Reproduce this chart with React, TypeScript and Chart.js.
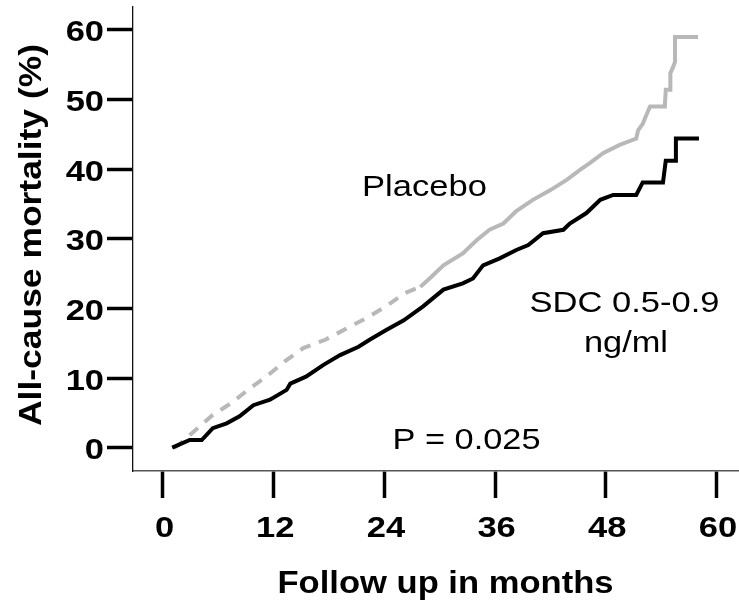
import { useEffect, useRef } from "react";
import Chart from "chart.js/auto";

// ---- Data ----
const xTickValues = [0, 12, 24, 36, 48, 60];
const yTickValues = [0, 10, 20, 30, 40, 50, 60];

const sdcMonths = [
  1.0, 2.9, 4.2, 5.4, 6.9, 8.3, 9.8, 11.6, 13.4, 13.8, 15.5, 17.4, 19.2, 21.2,
  22.4, 24.2, 26.1, 28.2, 30.4, 32.5, 33.6, 34.7, 36.5, 38.3, 39.6, 41.2, 43.4,
  44.1, 45.9, 47.4, 48.8, 51.3, 52.0, 54.2, 54.5, 55.6, 55.6, 58.1,
];
const sdcMortality = [
  0, 1.1, 1.1, 2.8, 3.5, 4.5, 6.1, 6.9, 8.3, 9.2, 10.2, 11.9, 13.3, 14.5,
  15.5, 16.9, 18.3, 20.3, 22.7, 23.6, 24.3, 26.2, 27.2, 28.4, 29.1, 30.8, 31.3,
  32.2, 33.7, 35.6, 36.3, 36.3, 38.1, 38.1, 41.2, 41.2, 44.4, 44.4,
];

const placeboMonths = [
  1.2, 1.7, 3.5, 5.4, 7.4, 9.4, 11.2, 13.2, 15.2, 17.6, 20.0, 22.3, 24.4, 26.2,
  27.9, 28.9, 30.4, 32.5, 34.0, 35.4, 36.9, 38.3, 40.1, 42.0, 43.8, 45.2, 46.3,
  47.7, 49.5, 51.3, 51.5, 52.0, 52.4, 52.8, 54.4, 54.5, 55.0, 55.0, 55.3, 55.5,
  55.5, 58.0,
];
const placeboMortality = [
  0, 0.4, 2.5, 4.7, 6.4, 8.5, 10.2, 12.4, 14.3, 15.5, 17.2, 18.8, 20.5, 22.2,
  23.1, 24.3, 26.2, 27.9, 29.8, 31.3, 32.2, 34.0, 35.6, 37.0, 38.5, 39.9, 40.9,
  42.3, 43.5, 44.4, 45.6, 46.5, 47.8, 49.0, 49.0, 51.4, 51.4, 53.8, 54.7, 55.4,
  59.0, 59.0,
];

const xTitle = "Follow up in months";
const yTitle = "All-cause mortality (%)";
const placeboLabel = "Placebo";
const sdcLabelLines = ["SDC 0.5-0.9", "ng/ml"];
const pValueLabel = "P = 0.025";

const FONT = '"Liberation Sans", Arial, Helvetica, sans-serif';

function drawScaled(
  ctx: CanvasRenderingContext2D,
  text: string,
  x: number,
  y: number,
  font: string,
  sx: number,
  align: CanvasTextAlign
) {
  ctx.save();
  ctx.font = font;
  ctx.fillStyle = "#000";
  ctx.textAlign = align;
  ctx.textBaseline = "alphabetic";
  ctx.translate(x, y);
  ctx.scale(sx, 1);
  ctx.fillText(text, 0, 0);
  ctx.restore();
}

function drawToWidth(
  ctx: CanvasRenderingContext2D,
  text: string,
  cx: number,
  y: number,
  font: string,
  width: number
) {
  ctx.save();
  ctx.font = font;
  const w = ctx.measureText(text).width;
  ctx.restore();
  drawScaled(ctx, text, cx, y, font, width / w, "center");
}

const textPlugin = {
  id: "kmText",
  afterDraw(chart: any) {
    const ctx: CanvasRenderingContext2D = chart.ctx;
    const xs = chart.scales.x;
    const ys = chart.scales.y;
    const tickFont = `bold 30px ${FONT}`;
    yTickValues.forEach((v) => {
      const py = ys.getPixelForValue(v);
      drawScaled(ctx, String(v), 104, py + 11.5, tickFont, 1.15, "right");
    });
    xTickValues.forEach((v) => {
      const px = xs.getPixelForValue(v);
      drawScaled(ctx, String(v), px + 1.5, 537, tickFont, 1.15, "center");
    });
    // axis titles
    drawToWidth(ctx, xTitle, 445.5, 593, `bold 32px ${FONT}`, 336);
    ctx.save();
    ctx.translate(41, 235);
    ctx.rotate(-Math.PI / 2);
    drawToWidth(ctx, yTitle, 0, 0, `bold 32px ${FONT}`, 382);
    ctx.restore();
    // annotations
    const annFont = `29px ${FONT}`;
    drawToWidth(ctx, placeboLabel, 424.5, 196, annFont, 125);
    drawToWidth(ctx, sdcLabelLines[0], 624.5, 311.5, annFont, 190);
    drawToWidth(ctx, sdcLabelLines[1], 626, 351.5, annFont, 84);
    drawToWidth(ctx, pValueLabel, 466.5, 448.5, annFont, 148);
  },
};

export default function App() {
  const canvasRef = useRef<HTMLCanvasElement | null>(null);

  useEffect(() => {
    if (!canvasRef.current) return;
    const sdcPoints = sdcMonths.map((m, i) => ({ x: m, y: sdcMortality[i] }));
    const placeboPoints = placeboMonths.map((m, i) => ({
      x: m,
      y: placeboMortality[i],
    }));

    const chart = new Chart(canvasRef.current, {
      type: "line",
      data: {
        datasets: [
          {
            label: "SDC 0.5-0.9 ng/ml",
            data: sdcPoints,
            borderColor: "#000000",
            borderWidth: 4,
            pointRadius: 0,
            tension: 0,
            fill: false,
          },
          {
            label: "Placebo",
            data: placeboPoints,
            borderColor: "#b8b8b8",
            borderWidth: 4,
            pointRadius: 0,
            tension: 0,
            fill: false,
            segment: {
              borderDash: (c: any) =>
                c.p0.parsed.x < 27.9 ? [11, 9] : undefined,
            },
          },
        ],
      },
      options: {
        animation: false,
        responsive: true,
        maintainAspectRatio: false,
        layout: { padding: { left: 107, right: 0, top: 7, bottom: 110 } },
        plugins: {
          legend: { display: false },
          tooltip: { enabled: false },
          title: { display: false },
        },
        scales: {
          x: {
            type: "linear",
            position: "bottom",
            min: -3.25,
            max: 62.44,
            afterBuildTicks: (scale: any) => {
              scale.ticks = xTickValues.map((v) => ({ value: v }));
            },
            ticks: { display: false },
            grid: {
              drawOnChartArea: false,
              drawTicks: true,
              tickLength: 27,
              tickWidth: 3.5,
              tickColor: "#000",
            },
            border: { display: true, color: "#555", width: 1.5 },
          },
          y: {
            type: "linear",
            position: "left",
            min: -3.35,
            max: 63.3,
            afterBuildTicks: (scale: any) => {
              scale.ticks = yTickValues.map((v) => ({ value: v }));
            },
            ticks: { display: false },
            grid: {
              drawOnChartArea: false,
              drawTicks: true,
              tickLength: 26,
              tickWidth: 3.5,
              tickColor: "#000",
            },
            border: { display: true, color: "#111", width: 1.3 },
          },
        },
      },
      plugins: [textPlugin],
    });
    return () => chart.destroy();
  }, []);

  return (
    <div
      style={{
        position: "fixed",
        left: 0,
        top: 0,
        width: 739,
        height: 608,
        background: "#fff",
      }}
    >
      <canvas ref={canvasRef} />
    </div>
  );
}
